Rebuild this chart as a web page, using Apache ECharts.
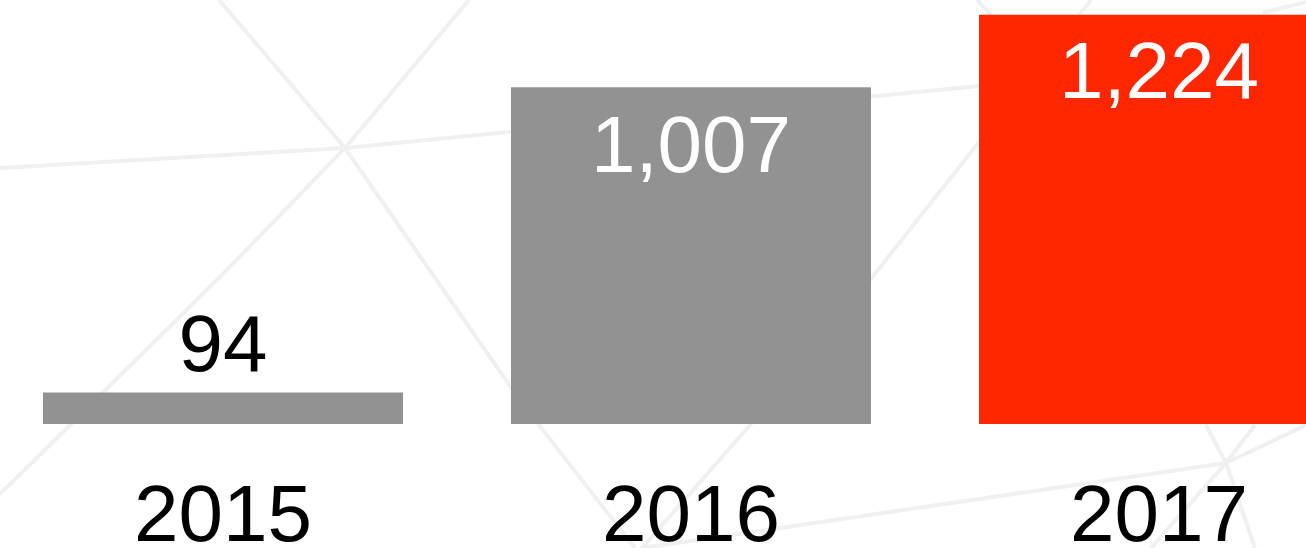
<!DOCTYPE html>
<html>
<head>
<meta charset="utf-8">
<title>2015 - 2017</title>
<script src="https://cdn.jsdelivr.net/npm/echarts@6/dist/echarts.min.js"></script>
<style>
  html, body { margin: 0; padding: 0; background: #ffffff; }
  #chart { width: 1306px; height: 548px; }
</style>
</head>
<body>
<div id="chart"></div>
<script>
// 数据
var categories = ['2015', '2016', '2017'];
var values = [94, 1007, 1224];
var barColors = ['#929292', '#929292', '#ff2600'];
var labelColors = ['#000000', '#ffffff', '#ffffff'];
var labelInside = [false, true, true];

// 背景装饰线 (不是数据)
var bgLines = [
  [[0, 168], [345, 148], [979, 86]],
  [[219, 0], [345, 148], [510, 386], [539, 425], [631, 543], [635, 548]],
  [[469, 0], [345, 148], [223, 274], [0, 494]],
  [[1091, 0], [979, 142], [870, 280], [750, 425], [642, 548]],
  [[640, 548], [677, 543], [1226, 463], [1306, 425]],
  [[1206, 425], [1226, 463], [1255, 548]],
  [[1255, 425], [1226, 463], [1151, 548]],
  [[977, 0], [992, 16]],
  [[1263, 13], [1306, 2]]
];

var chart = echarts.init(document.getElementById('chart'));

var fontFamily = '"Liberation Sans", Arial, Helvetica, sans-serif';
// 标签离柱顶的距离
var labelDistance = [4, 23, 21];

var option = {
  backgroundColor: '#ffffff',
  animation: false,
  graphic: bgLines.map(function (pts) {
    return {
      type: 'polyline',
      silent: true,
      z: 0,
      shape: { points: pts },
      style: { stroke: '#f0f0f0', lineWidth: 4, fill: null }
    };
  }),
  grid: {
    left: -11,
    width: 1404,
    top: 0,
    bottom: 124,
    outerBoundsMode: 'none',
    containLabel: false
  },
  xAxis: {
    type: 'category',
    data: categories,
    axisLine: { show: false },
    axisTick: { show: false },
    axisLabel: {
      color: '#000000',
      fontSize: 80,
      fontFamily: fontFamily,
      margin: 55
    }
  },
  yAxis: {
    type: 'value',
    min: 0,
    max: 1268,
    show: false,
    splitLine: { show: false }
  },
  series: [{
    type: 'bar',
    barWidth: 360,
    z: 2,
    data: values.map(function (v, i) {
      return {
        value: v,
        itemStyle: { color: barColors[i] },
        label: {
          show: true,
          position: labelInside[i] ? 'insideTop' : 'top',
          distance: labelDistance[i],
          color: labelColors[i],
          fontSize: 80,
          fontFamily: fontFamily,
          formatter: function (p) {
            return String(p.value).replace(/\B(?=(\d{3})+(?!\d))/g, ',');
          }
        }
      };
    })
  }]
};

chart.setOption(option);
</script>
</body>
</html>
